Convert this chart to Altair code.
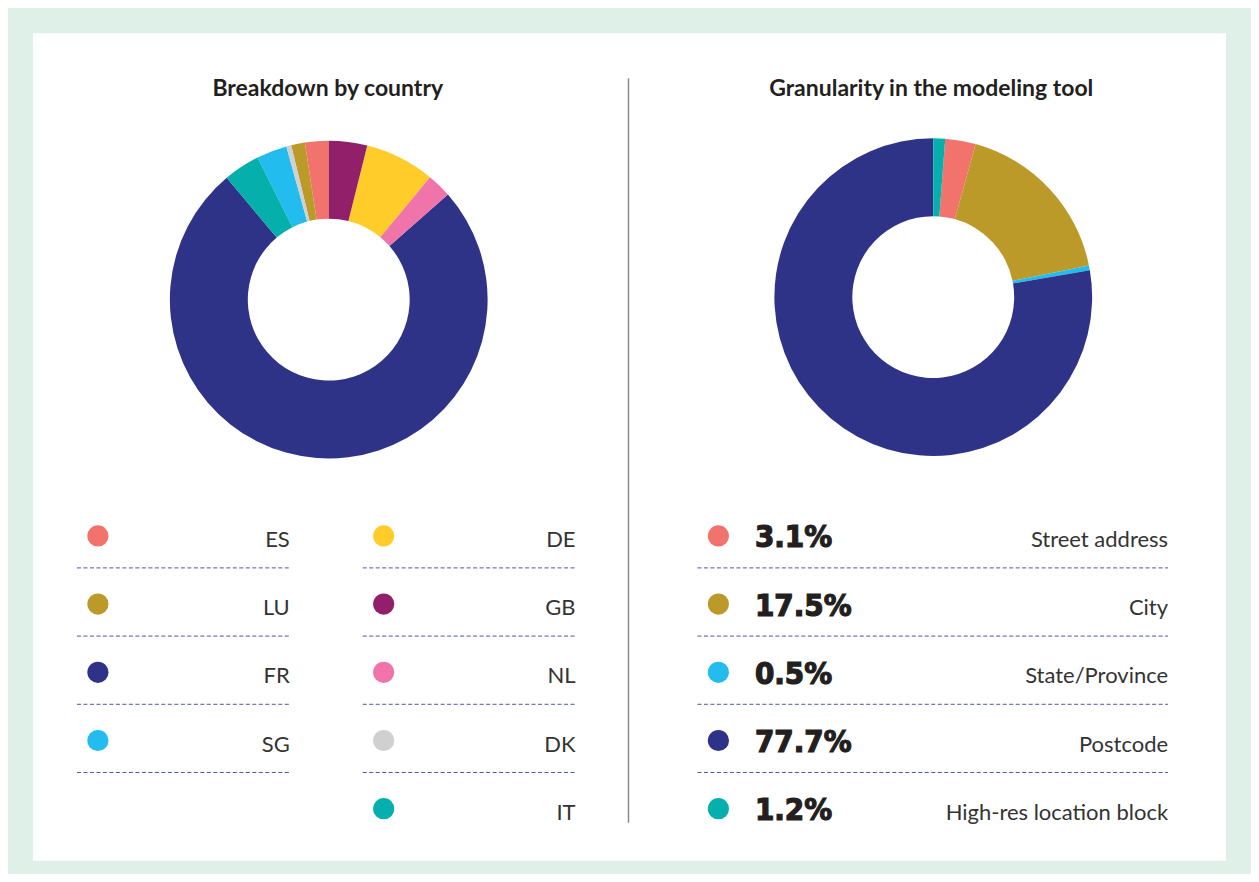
import altair as alt
import pandas as pd

# ---------------- data ----------------
countries = ["ES", "LU", "FR", "SG", "DE", "GB", "NL", "DK", "IT"]
country_share = [2.4, 1.4, 75.4, 3.1, 7.1, 3.9, 2.5, 0.5, 3.7]
country_pie_order = [9, 8, 4, 6, 2, 1, 3, 7, 5]
country_legend_col = [0, 0, 0, 0, 1, 1, 1, 1, 1]
country_legend_row = [0, 1, 2, 3, 0, 1, 2, 3, 4]
country_colors = ["#f2736b", "#bc9a2a", "#2e3388", "#22bcef", "#ffcc29",
                  "#921f6a", "#f074a9", "#d0d0d0", "#05afab"]

levels = ["Street address", "City", "State/Province", "Postcode", "High-res location block"]
level_share = [3.1, 17.5, 0.5, 77.7, 1.2]
level_pie_order = [2, 3, 4, 5, 1]
level_legend_row = [0, 1, 2, 3, 4]
level_colors = ["#f2736b", "#bc9a2a", "#22bcef", "#2e3388", "#05afab"]

titles = ["Breakdown by country", "Granularity in the modeling tool"]

# ---------------- tables ----------------
df_c = pd.DataFrame({
    "country": countries,
    "share": country_share,
    "pie_order": country_pie_order,
    "col": country_legend_col,
    "row": country_legend_row,
    "color": country_colors,
})
df_l = pd.DataFrame({
    "level": levels,
    "share": level_share,
    "pie_order": level_pie_order,
    "row": level_legend_row,
    "color": level_colors,
})
df_l["pct"] = [f"{v:.1f}%" for v in level_share]
df_t = pd.DataFrame({"title": titles})
df_div = pd.DataFrame({"k": [0]})

TEXT_FONT = "Lato"
LINE_COLOR = "#5052ac"
X_SCALE = alt.Scale(domain=[0, 1], range=[65, 351])
Y_SCALE = alt.Scale(domain=[0, 4], range=[503, 776])

# ---------------- layers ----------------
divider = alt.Chart(df_div).mark_rule(color="#8a8a8a", strokeWidth=1.5).encode(
    x=alt.value(596), y=alt.value(45), y2=alt.value(790)
)

title_style = dict(font=TEXT_FONT, fontWeight="bold", fontSize=23, color="#231f20",
                   align="center", baseline="middle")
title_left = alt.Chart(df_t).transform_filter(
    alt.datum.title == titles[0]
).mark_text(**title_style).encode(
    x=alt.value(295), y=alt.value(55.5), text="title:N"
)
title_right = alt.Chart(df_t).transform_filter(
    alt.datum.title == titles[1]
).mark_text(**title_style).encode(
    x=alt.value(899), y=alt.value(55.5), text="title:N"
)

donut_left = alt.Chart(df_c).mark_arc(innerRadius=81, outerRadius=159).encode(
    theta=alt.Theta("share:Q", stack=True),
    order=alt.Order("pie_order:Q"),
    color=alt.Color("color:N", scale=None),
    x=alt.value(296), y=alt.value(266.5),
)
donut_right = alt.Chart(df_l).mark_arc(innerRadius=81, outerRadius=159).encode(
    theta=alt.Theta("share:Q", stack=True),
    order=alt.Order("pie_order:Q"),
    color=alt.Color("color:N", scale=None),
    x=alt.value(901), y=alt.value(264),
)

# left legend
c_dots = alt.Chart(df_c).mark_circle(size=450, opacity=1).encode(
    x=alt.X("col:Q", scale=X_SCALE, axis=None),
    y=alt.Y("row:Q", scale=Y_SCALE, axis=None),
    color=alt.Color("color:N", scale=None),
)
c_text = alt.Chart(df_c).mark_text(font=TEXT_FONT, fontSize=22, color="#333333",
                                   align="right", baseline="alphabetic",
                                   dx=192, dy=11).encode(
    x=alt.X("col:Q", scale=X_SCALE, axis=None),
    y=alt.Y("row:Q", scale=Y_SCALE, axis=None),
    text="country:N",
)
c_rules = alt.Chart(df_c).transform_filter("datum.row < 4").mark_rule(
    color=LINE_COLOR, strokeWidth=1, strokeDash=[4, 2.5],
    xOffset=-21, x2Offset=193, yOffset=32,
).encode(
    x=alt.X("col:Q", scale=X_SCALE, axis=None),
    x2="col:Q",
    y=alt.Y("row:Q", scale=Y_SCALE, axis=None),
)

# right legend
l_dots = alt.Chart(df_l).mark_circle(size=450, opacity=1).encode(
    x=alt.value(686),
    y=alt.Y("row:Q", scale=Y_SCALE, axis=None),
    color=alt.Color("color:N", scale=None),
)
l_pct = alt.Chart(df_l).mark_text(font="DejaVu Sans Condensed", fontWeight="bold",
                                  fontSize=31, color="#231f20", align="left",
                                  stroke="#231f20", strokeWidth=1.2,
                                  baseline="alphabetic", dy=11.5).encode(
    x=alt.value(722.5),
    y=alt.Y("row:Q", scale=Y_SCALE, axis=None),
    text="pct:N",
)
l_text = alt.Chart(df_l).mark_text(font=TEXT_FONT, fontSize=22, color="#333333",
                                   align="right", baseline="alphabetic", dy=11).encode(
    x=alt.value(1136),
    y=alt.Y("row:Q", scale=Y_SCALE, axis=None),
    text="level:N",
)
l_rules = alt.Chart(df_l).transform_filter("datum.row < 4").mark_rule(
    color=LINE_COLOR, strokeWidth=1, strokeDash=[4, 2.5], yOffset=32,
).encode(
    x=alt.value(665), x2=alt.value(1136),
    y=alt.Y("row:Q", scale=Y_SCALE, axis=None),
)

chart = alt.layer(
    divider, title_left, title_right, donut_left, donut_right,
    c_rules, c_dots, c_text, l_rules, l_dots, l_pct, l_text,
).resolve_scale(
    theta="independent"
).properties(
    width=1194, height=828,
    background="#dff0e8",
    padding={"left": 25, "top": 25, "right": 25, "bottom": 13},
    autosize=alt.AutoSizeParams(type="none"),
).configure_view(
    fill="white", stroke=None
)

chart.save("out.html", embed_options={"renderer": "svg", "actions": False})
